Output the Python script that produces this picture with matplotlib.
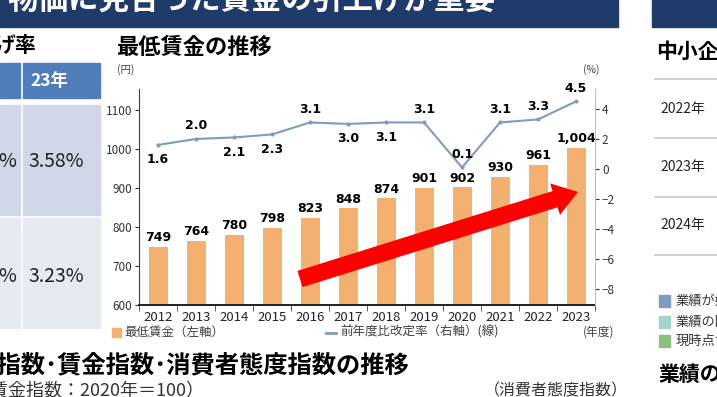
import matplotlib
matplotlib.use("Agg")
import matplotlib.pyplot as plt
from matplotlib.patches import Rectangle, FancyArrow
from matplotlib.lines import Line2D

plt.rcParams['font.family'] = ['Noto Sans CJK JP', 'DejaVu Sans']

# データ
years = ['2012', '2013', '2014', '2015', '2016', '2017', '2018', '2019',
         '2020', '2021', '2022', '2023']
wage = [749, 764, 780, 798, 823, 848, 874, 901, 902, 930, 961, 1004]
rate = [1.6, 2.0, 2.1, 2.3, 3.1, 3.0, 3.1, 3.1, 0.1, 3.1, 3.3, 4.5]
rate_above = [False, True, False, False, True, False, False, True, True, True, True, True]
left_ticks = [600, 700, 800, 900, 1000, 1100]
right_ticks = [-8, -6, -4, -2, 0, 2, 4]

BAR = '#F4B06F'
LINE = '#7F9BBE'
NAVY = '#1F3B69'
W, H = 717, 397


def fx(px):
    return px / W


def fy(py):
    return 1 - py / H


fig = plt.figure(figsize=(7.17, 3.97), dpi=100)
fig.patch.set_facecolor('white')

# 上部のバー
fig.patches.append(Rectangle((0, fy(27)), fx(618), 27 / H, transform=fig.transFigure,
                             color=NAVY, zorder=0))
fig.patches.append(Rectangle((fx(652), fy(27)), fx(65), 27 / H, transform=fig.transFigure,
                             color=NAVY, zorder=0))
fig.text(fx(8), fy(1), '物価に見合った賃金の引上げが重要', color='white', fontsize=22,
         fontweight='bold', va='center', ha='left')

# 左の表（切れている部分）
fig.text(fx(-6), fy(46), 'げ率', fontsize=15, fontweight='bold', va='center')
fig.patches.append(Rectangle((0, fy(98)), fx(20), 35 / H, transform=fig.transFigure, color='#4F7EBB'))
fig.patches.append(Rectangle((fx(23), fy(98)), fx(77), 35 / H, transform=fig.transFigure, color='#4F7EBB'))
fig.text(fx(30), fy(81), '23年', color='white', fontsize=12.5, fontweight='bold', va='center')
fig.patches.append(Rectangle((0, fy(215)), fx(20), 110 / H, transform=fig.transFigure, color='#CFD7E8'))
fig.patches.append(Rectangle((fx(23), fy(215)), fx(77), 110 / H, transform=fig.transFigure, color='#CFD7E8'))
fig.patches.append(Rectangle((0, fy(328)), fx(20), 110 / H, transform=fig.transFigure, color='#E6EAF3'))
fig.patches.append(Rectangle((fx(23), fy(328)), fx(77), 110 / H, transform=fig.transFigure, color='#E6EAF3'))
fig.text(fx(-2), fy(161), '%', fontsize=14, va='center', color='#222222')
fig.text(fx(28), fy(161), '3.58%', fontsize=14, va='center', color='#222222')
fig.text(fx(-2), fy(276), '%', fontsize=14, va='center', color='#222222')
fig.text(fx(28), fy(276), '3.23%', fontsize=14, va='center', color='#222222')

# 右側（切れている部分）
fig.text(fx(656), fy(51), '中小企業', fontsize=15, fontweight='bold', va='center')
for py in [79, 138, 197, 255]:
    fig.add_artist(Line2D([fx(655), 1], [fy(py), fy(py)], color='#C8C8C8', lw=1.2,
                          transform=fig.transFigure))
for py, t in zip([109, 167, 225], ['2022年', '2023年', '2024年']):
    fig.text(fx(660), fy(py), t, fontsize=10, va='center', color='#222222')
for py, c, t in zip([301, 322, 341], ['#7F9CC0', '#A6D4CD', '#8CC080'],
                    ['業績が好調', '業績の回復', '現時点で']):
    fig.patches.append(Rectangle((fx(659), fy(py + 6)), fx(11), 12 / H,
                                 transform=fig.transFigure, color=c))
    fig.text(fx(676), fy(py), t, fontsize=9.5, va='center', color='#333333')
fig.text(fx(658), fy(374), '業績の推移', fontsize=15, fontweight='bold', va='center')

# 下部の見出し
fig.text(fx(-51), fy(365), '物価指数･賃金指数･消費者態度指数の推移', fontsize=17.5,
         fontweight='bold', va='center')
fig.text(fx(-28), fy(391), '（賃金指数：2020年＝100）', fontsize=13, va='center', color='#333333')
fig.text(fx(484), fy(391), '（消費者態度指数）', fontsize=11.5, va='center', color='#333333')

# グラフ
fig.text(fx(116), fy(47), '最低賃金の推移', fontsize=16, fontweight='bold', va='center')
fig.text(fx(117), fy(70), '(円)', fontsize=7.5, va='center', color='#404040')
fig.text(fx(583), fy(70), '(%)', fontsize=7.5, va='center', color='#404040')

ax = fig.add_axes([fx(139), fy(305), fx(456), 216 / H])
x = list(range(len(years)))
bars = ax.bar(x, wage, width=0.5, color=BAR, zorder=2)
ax.set_xlim(-0.5, 11.5)
ax.set_ylim(600, 1155)
ax.set_yticks(left_ticks)
ax.set_xticks(x)
ax.set_xticklabels(years)
ax.set_xticks([i + 0.5 for i in range(-1, 12)], minor=True)
ax.tick_params(axis='x', which='major', length=0, labelsize=9.5, pad=4, colors='#222222')
ax.tick_params(axis='x', which='minor', length=4, color='#404040')
ax.tick_params(axis='y', length=3, labelsize=8.5, colors='#333333', pad=2)
for s in ['top', 'right']:
    ax.spines[s].set_visible(False)
ax.spines['left'].set_color('#404040')
ax.spines['bottom'].set_color('#202020')
ax.spines['bottom'].set_linewidth(1.4)

for i, v in zip(x, wage):
    ax.annotate(f'{v:,}', (i, v), xytext=(0, 2), textcoords='offset points',
                ha='center', va='bottom', fontsize=9, fontweight='bold',
                family='DejaVu Sans', zorder=5)

ax2 = ax.twinx()
ax2.plot(x, rate, color=LINE, lw=1.5, marker='o', markersize=2, zorder=3)
ax2.set_ylim(-9.07, 5.33)
ax2.set_yticks(right_ticks)
ax2.tick_params(axis='y', length=3, labelsize=8.5, colors='#333333', pad=2)
for s in ['top', 'left', 'bottom']:
    ax2.spines[s].set_visible(False)
ax2.spines['right'].set_color('#BFBFBF')
for i, v, up in zip(x, rate, rate_above):
    ax2.annotate(f'{v:.1f}', (i, v), xytext=(0, 5 if up else -6), textcoords='offset points',
                 ha='center', va='bottom' if up else 'top', fontsize=9,
                 fontweight='bold', family='DejaVu Sans')

# 赤い矢印
arrow = FancyArrow(3.00, 1.18, 2.78, 0.87, width=0.17, head_width=0.33, head_length=0.24,
                   length_includes_head=True, color='#FF0000', lw=0,
                   transform=fig.dpi_scale_trans, zorder=10)
fig.patches.append(arrow)

# 凡例
fig.patches.append(Rectangle((fx(112), fy(337)), fx(9), 9 / H, transform=fig.transFigure, color=BAR))
fig.text(fx(124), fy(332), '最低賃金（左軸）', fontsize=9, va='center', color='#404040')
fig.add_artist(Line2D([fx(326), fx(336)], [fy(333), fy(333)], color=LINE, lw=2,
                      transform=fig.transFigure))
fig.text(fx(340), fy(332), '前年度比改定率（右軸）(線)', fontsize=9, va='center', color='#404040')
fig.text(fx(583), fy(332), '(年度)', fontsize=8.5, va='center', color='#404040')

fig.savefig('out.png', dpi=100)
